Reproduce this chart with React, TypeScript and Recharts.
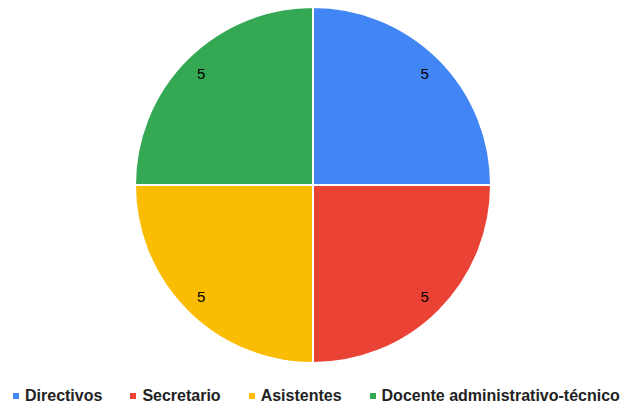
import { PieChart, Pie, Cell, Legend } from 'recharts';

const categories = ['Directivos', 'Secretario', 'Asistentes', 'Docente administrativo-técnico'];
const values = [5, 5, 5, 5];
const colors = ['#4285F4', '#EA4335', '#FBBC04', '#34A853'];

const data = categories.map((name, i) => ({ name, value: values[i] }));

const RAD = Math.PI / 180;

function renderLabel(props: any) {
  const { cx, cy, midAngle, value } = props;
  const r = 158;
  const x = cx + r * Math.cos(-midAngle * RAD);
  const y = cy + r * Math.sin(-midAngle * RAD);
  return (
    <text x={x} y={y} fill="#000" fontSize={15} fontFamily="Liberation Sans, Arial, sans-serif"
      textAnchor="middle" dominantBaseline="central">
      {value}
    </text>
  );
}

function LegendContent() {
  return (
    <div style={{ display: 'flex', alignItems: 'center', fontFamily: 'Liberation Sans, Arial, sans-serif',
      fontSize: 16, fontWeight: 'bold', color: '#222', whiteSpace: 'nowrap' }}>
      {categories.map((c, i) => (
        <div key={c} style={{ display: 'flex', alignItems: 'center', marginRight: i < 3 ? 28 : 0 }}>
          <span style={{ display: 'inline-block', width: 6, height: 6, background: colors[i], marginRight: 6 }} />
          <span>{c}</span>
        </div>
      ))}
    </div>
  );
}

export default function App() {
  return (
    <div style={{ position: 'absolute', left: 0, top: 0 }}>
      <PieChart width={620} height={408}>
        <Pie data={data} dataKey="value" nameKey="name" cx={308} cy={180} outerRadius={178}
          startAngle={90} endAngle={-270} stroke="#fff" strokeWidth={2}
          label={renderLabel} labelLine={false} isAnimationActive={false}>
          {data.map((d, i) => <Cell key={d.name} fill={colors[i]} />)}
        </Pie>
        <Legend content={<LegendContent />} wrapperStyle={{ left: 13, top: 387, width: 610 }} />
      </PieChart>
    </div>
  );
}
